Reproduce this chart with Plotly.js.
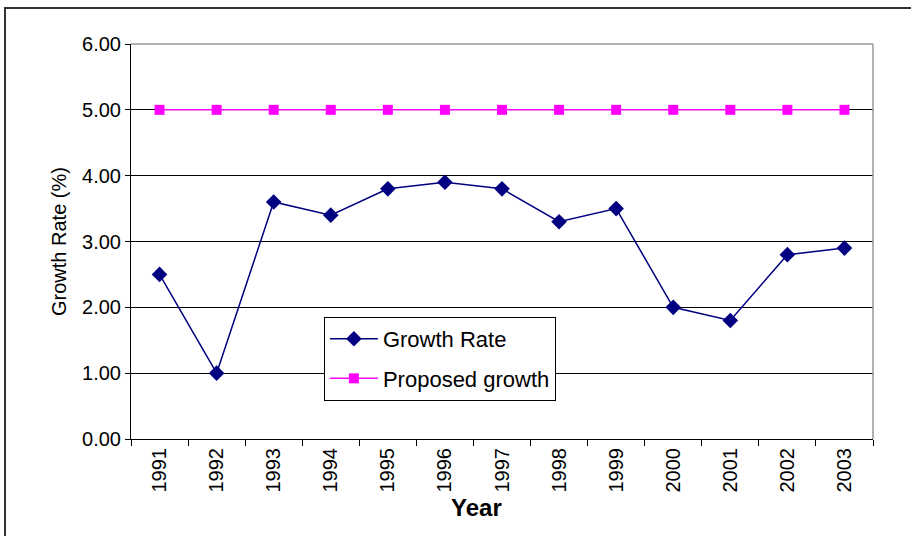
<!DOCTYPE html>
<html><head><meta charset="utf-8">
<script src="https://cdn.plot.ly/plotly-3.0.1.min.js"></script>
<style>html,body{margin:0;padding:0;background:#fff}#c{width:911px;height:536px}</style>
</head><body><div id="c"></div>
<script>
const years = ["1991","1992","1993","1994","1995","1996","1997","1998","1999","2000","2001","2002","2003"];
const growthRate = [2.5, 1.0, 3.6, 3.4, 3.8, 3.9, 3.8, 3.3, 3.5, 2.0, 1.8, 2.8, 2.9];
const proposedGrowth = [5, 5, 5, 5, 5, 5, 5, 5, 5, 5, 5, 5, 5];
const yTicks = [0, 1, 2, 3, 4, 5, 6];

const traces = [
  {x: years, y: growthRate, name: "Growth Rate", type: "scatter", mode: "lines+markers", legendgroup: "a",
   line: {color: "#000080", width: 1.5}, marker: {symbol: "diamond", size: 12, color: "#000080"}},
  {x: years, y: proposedGrowth, name: "Proposed growth", type: "scatter", mode: "lines+markers", legendgroup: "b",
   line: {color: "#FF00FF", width: 1.5}, marker: {symbol: "square", size: 10, color: "#FF00FF"}}
];

const layout = {
  width: 911, height: 536,
  margin: {l: 131, r: 38, t: 44, b: 97},
  paper_bgcolor: "#fff", plot_bgcolor: "#fff",
  font: {family: "Liberation Sans, Arial, sans-serif", color: "#000", size: 20},
  showlegend: true,
  legend: {x: 0.26, y: 0.309, xanchor: "left", yanchor: "top", bgcolor: "#fff",
           bordercolor: "#000", borderwidth: 1, font: {size: 22}, tracegroupgap: 8, itemwidth: 48},
  xaxis: {type: "category", range: [-0.5, 12.5], tickson: "boundaries", ticks: "outside", ticklen: 6, tickcolor: "#000",
          showline: true, linecolor: "#000", linewidth: 1, showgrid: false, tickangle: -90,
          tickfont: {size: 20}, zeroline: false},
  yaxis: {range: [0, 6], tickvals: yTicks, tickformat: ".2f", ticks: "outside", ticklen: 5, tickcolor: "#000",
          showline: true, linecolor: "#000", linewidth: 1, showgrid: true, gridcolor: "#000", gridwidth: 1,
          zeroline: false, tickfont: {size: 20}, title: {text: "Growth Rate (%)", font: {size: 20}, standoff: 10}},
  annotations: [
    {text: "<b>Year</b>", xref: "paper", yref: "paper", x: 0.466, y: -0.173, xanchor: "center", yanchor: "middle",
     showarrow: false, font: {size: 24}}
  ],
  shapes: [
    {type: "line", xref: "paper", yref: "paper", x0: 0, x1: 1, y0: 1, y1: 1, line: {color: "#999", width: 1.5}},
    {type: "line", xref: "paper", yref: "paper", x0: 1, x1: 1, y0: 0, y1: 1, line: {color: "#999", width: 1.5}},
    {type: "rect", xref: "paper", yref: "paper", x0: -0.1698, x1: 1.06, y0: -0.28, y1: 1.091,
     line: {color: "#333", width: 2}, layer: "below"}
  ]
};
Plotly.newPlot("c", traces, layout, {displayModeBar: false});
</script></body></html>
